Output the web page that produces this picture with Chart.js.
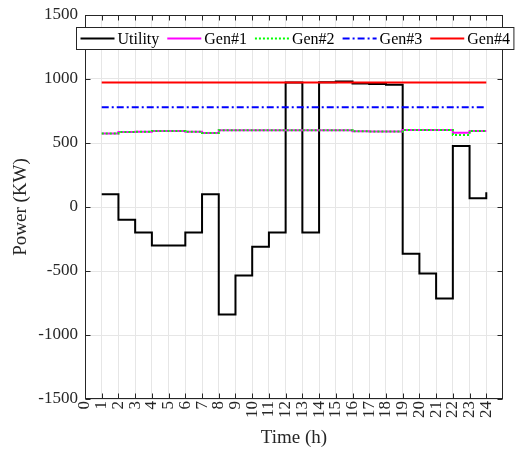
<!DOCTYPE html>
<html>
<head>
<meta charset="utf-8">
<script src="https://cdn.jsdelivr.net/npm/chart.js@4.4.1/dist/chart.umd.min.js"></script>
<style>
  html, body { margin: 0; padding: 0; background: #fff; }
  #wrap { width: 518px; height: 454px; }
</style>
</head>
<body>
<div id="wrap"><canvas id="chart" width="518" height="454"></canvas></div>
<script>
// stairs data, one value per hour (value holds until next hour)
const hours = [1, 2, 3, 4, 5, 6, 7, 8, 9, 10, 11, 12, 13, 14, 15, 16, 17, 18, 19, 20, 21, 22, 23, 24];
const utility = [100, -100, -200, -300, -300, -200, 100, -840, -535, -310, -200, 972, -200, 974, 980, 964, 960, 955, -365, -520, -715, 476, 68, 115];
const gen1 = [575, 585, 588, 593, 593, 588, 578, 600, 600, 600, 600, 600, 600, 600, 600, 592, 590, 590, 601, 601, 601, 580, 594, 594];
const gen2 = [575, 585, 588, 593, 593, 588, 578, 600, 600, 600, 600, 600, 600, 600, 600, 592, 590, 590, 601, 601, 601, 562, 594, 594];
const gen3 = [780, 780, 780, 780, 780, 780, 780, 780, 780, 780, 780, 780, 780, 780, 780, 780, 780, 780, 780, 780, 780, 780, 780, 780];
const gen4 = [972, 972, 972, 972, 972, 972, 972, 972, 972, 972, 972, 972, 972, 972, 972, 972, 972, 972, 972, 972, 972, 972, 972, 972];

const xTickLabels = ["0", "1", "2", "3", "4", "5", "6", "7", "8", "9", "10", "11", "12", "13", "14", "15", "16", "17", "18", "19", "20", "21", "22", "23", "24"];
const yTicks = [-1500, -1000, -500, 0, 500, 1000, 1500];

const AXIS = "#262626";
Chart.defaults.font.family = '"Liberation Serif", "Times New Roman", serif';
Chart.defaults.color = AXIS;

const pts = (vals) => hours.map((h, i) => ({ x: h, y: vals[i] }));

function series(label, vals, color, dash, order) {
  return {
    label,
    data: pts(vals),
    borderColor: color,
    backgroundColor: color,
    borderWidth: 2,
    borderDash: dash,
    stepped: "before",
    pointRadius: 0,
    fill: false,
    order
  };
}

// box, inner tick marks
const boxTicks = {
  id: "boxTicks",
  afterDatasetsDraw(chart) {
    const { ctx, chartArea: a, scales: { x, y } } = chart;
    const L = Math.round(a.left) + 0.5, R = Math.round(a.right) - 0.5;
    const T = Math.round(a.top) + 0.5, B = Math.round(a.bottom) - 0.5;
    ctx.save();
    ctx.strokeStyle = AXIS;
    ctx.lineWidth = 1;
    ctx.beginPath();
    x.ticks.forEach((t) => {
      const px = Math.round(x.getPixelForValue(t.value)) + 0.5;
      ctx.moveTo(px, B); ctx.lineTo(px, B - 5);
      ctx.moveTo(px, T); ctx.lineTo(px, T + 5);
    });
    y.ticks.forEach((t) => {
      const py = Math.round(y.getPixelForValue(t.value)) + 0.5;
      ctx.moveTo(L, py); ctx.lineTo(L + 5, py);
      ctx.moveTo(R, py); ctx.lineTo(R - 5, py);
    });
    ctx.stroke();
    ctx.strokeRect(L, T, R - L, B - T);
    ctx.restore();
  }
};

// MATLAB-style legend box inside the top of the axes
const boxLegend = {
  id: "boxLegend",
  afterDraw(chart) {
    const { ctx, chartArea: a } = chart;
    const sets = chart.data.datasets;
    ctx.save();
    ctx.font = '16px "Liberation Serif", "Times New Roman", serif';
    const sample = 34, gap = 3, itemGap = 8, pad = 4;
    const widths = sets.map((d) => ctx.measureText(d.label).width);
    const w = pad * 2 + sets.length * (sample + gap) + widths.reduce((s, v) => s + v, 0) + itemGap * (sets.length - 1);
    const left = Math.round(a.left) - 9 + 0.5, top = Math.round(a.top) + 12 + 0.5, h = 22;
    ctx.fillStyle = "#fff";
    ctx.fillRect(left, top, w, h);
    ctx.strokeStyle = AXIS;
    ctx.lineWidth = 1;
    ctx.strokeRect(left, top, w, h);
    const cy = top + h / 2;
    let cx = left + pad;
    sets.forEach((d, i) => {
      ctx.beginPath();
      ctx.setLineDash(d.borderDash || []);
      ctx.strokeStyle = d.borderColor;
      ctx.lineWidth = 2;
      ctx.moveTo(cx, cy);
      ctx.lineTo(cx + sample, cy);
      ctx.stroke();
      ctx.setLineDash([]);
      ctx.fillStyle = "#000";
      ctx.textBaseline = "middle";
      ctx.fillText(d.label, cx + sample + gap, cy + 1);
      cx += sample + gap + widths[i] + itemGap;
    });
    ctx.restore();
  }
};

new Chart(document.getElementById("chart"), {
  type: "line",
  data: {
    datasets: [
      series("Utility", utility, "#000000", [], 4),
      series("Gen#1", gen1, "#ff00ff", [], 3),
      series("Gen#2", gen2, "#00ff00", [2, 2], 2),
      series("Gen#3", gen3, "#0000ff", [7, 3, 2, 3], 1),
      series("Gen#4", gen4, "#ff0000", [], 0)
    ]
  },
  options: {
    responsive: false,
    animation: false,
    devicePixelRatio: 1,
    layout: { padding: { left: 0, right: 15, top: 15, bottom: 5 } },
    plugins: {
      legend: { display: false },
      tooltip: { enabled: false }
    },
    scales: {
      x: {
        type: "linear",
        min: 0,
        max: 25,
        afterBuildTicks: (s) => {
          s.ticks = xTickLabels.map((l) => ({ value: Number(l) }));
        },
        afterFit: (s) => {
          s.height = 50;
          s.paddingLeft = 0;
          s.paddingRight = 0;
        },
        ticks: {
          autoSkip: false,
          minRotation: 90,
          maxRotation: 90,
          padding: 2,
          font: { size: 17 },
          color: AXIS,
          callback: (v) => xTickLabels[v]
        },
        grid: { color: "#e6e6e6", drawTicks: false },
        border: { display: false },
        title: {
          display: true,
          text: "Time (h)",
          font: { size: 19 },
          color: AXIS,
          padding: { top: 0, bottom: 0 }
        }
      },
      y: {
        min: -1500,
        max: 1500,
        afterBuildTicks: (s) => {
          s.ticks = yTicks.map((v) => ({ value: v }));
        },
        afterFit: (s) => {
          s.width = 85;
          s.paddingTop = 0;
          s.paddingBottom = 0;
        },
        ticks: {
          padding: 7,
          font: { size: 17 },
          color: AXIS,
          callback: (v) => String(v)
        },
        grid: { color: "#e6e6e6", drawTicks: false },
        border: { display: false },
        title: {
          display: true,
          text: "Power (KW)",
          font: { size: 19 },
          color: AXIS,
          padding: { top: 10, bottom: 0 }
        }
      }
    }
  },
  plugins: [boxTicks, boxLegend]
});
</script>
</body>
</html>
